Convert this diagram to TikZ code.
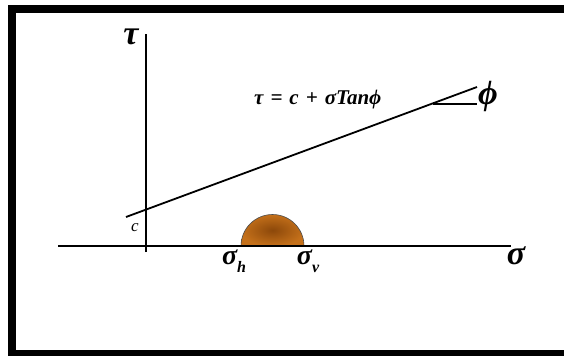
\documentclass[tikz,border=0pt]{standalone}
\usepackage{fontspec}
\setmainfont{Liberation Serif}
\begin{document}
\begin{tikzpicture}[x=1pt,y=-1pt,
  axis/.style={line width=1.6pt,black},
  lbl/.style={inner sep=0pt,font=\bfseries\itshape},
  bigl/.style={lbl,font=\fontsize{34}{34}\selectfont\bfseries\itshape}]
\useasboundingbox (0,0) rectangle (564,356);
% frame
\fill[black] (8,5) rectangle (564,356);
\fill[white] (16,13) rectangle (564,350);
% axes
\coordinate (yt) at (146,34);
\coordinate (yb) at (146,252);
\coordinate (xl) at (58,246);
\coordinate (xr) at (511,246);
\draw[axis] (yb) -- (yt);
\draw[axis] (xl) -- (xr);
% semicircle
\coordinate (sc) at (272.5,246);
\shade[draw=black!70,line width=0.6pt,inner color={rgb,255:red,140;green,72;blue,10},outer color={rgb,255:red,196;green,112;blue,26}]
  (241,246) arc[start angle=180,end angle=360,radius=31.5] -- cycle;
\draw[axis] (xl) -- (xr);
% failure line
\coordinate (la) at (126,217);
\coordinate (lb) at (477,87);
\coordinate (tk) at (433,104);
\coordinate (tke) at (477,104);
\draw[line width=1.8pt] (la) -- (lb);
\draw[line width=1.8pt] (tk) -- (tke);
% labels
\node[bigl] (tau) at (131,37) {τ};
\node[bigl] (sig) at (516,256) {σ};
\node[bigl] (phi) at (488,96) {ϕ};
\node[inner sep=0pt,font=\fontsize{17}{17}\selectfont\itshape] (c) at (135,228) {c};
\node[lbl,font=\fontsize{28}{28}\selectfont\bfseries\itshape] (sh) at (234,261) {σ\raisebox{-0.3em}{\fontsize{16}{16}\selectfont h}};
\node[lbl,font=\fontsize{28}{28}\selectfont\bfseries\itshape] (sv) at (308,261) {σ\raisebox{-0.3em}{\fontsize{16}{16}\selectfont v}};
\node[lbl,font=\fontsize{21}{21}\selectfont\bfseries\itshape,anchor=west] (eq) at (254,100) {τ\,\,=\,\,c\,\,+\,\,σTanϕ};
\end{tikzpicture}
\end{document}
